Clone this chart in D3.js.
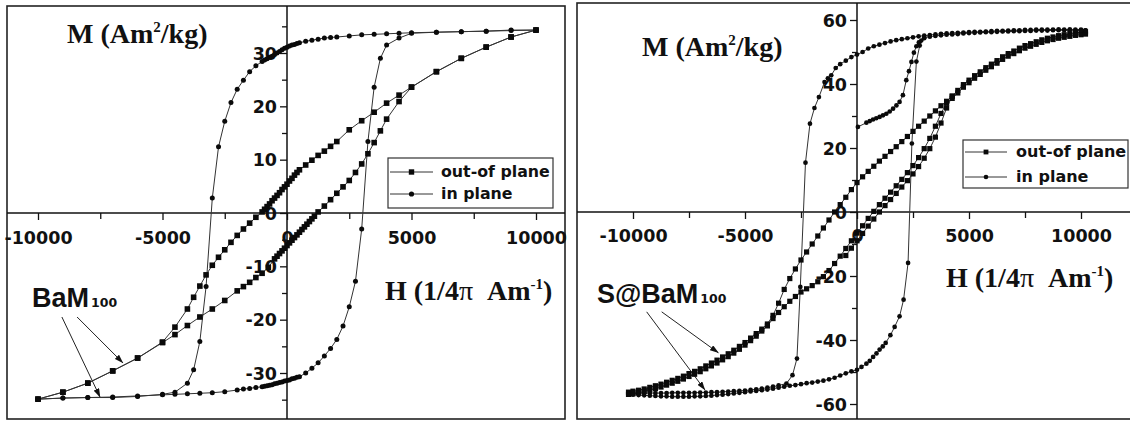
<!DOCTYPE html>
<html>
<head>
<meta charset="utf-8">
<script src="https://cdn.jsdelivr.net/npm/d3@7"></script>
<style>
  html, body { margin: 0; padding: 0; background: #fff; }
  svg { display: block; }
</style>
</head>
<body>
<svg id="chart" width="1130" height="421"></svg>
<script>
// ---------- Hysteresis loops, [H (1/4π A/m), M (Am²/kg)] ----------

// BaM100, out-of-plane: descending field branch
const bamOutDown = [[10000,34.3],[9000,33.0],[8000,31.1],[7000,29.0],[6000,26.5],[5000,23.6],[4500,22.1],[4000,20.6],[3500,18.9],[3000,17.3],[2500,15.6],[2000,13.4],[1750,12.5],[1500,11.6],[1250,10.8],[1000,9.9],[750,9.0],[500,8.1],[400,7.6],[300,7.1],[200,6.5],[100,6.0],[0,5.4],[-100,4.9],[-200,4.4],[-300,3.8],[-400,3.3],[-500,2.8],[-600,2.3],[-700,1.7],[-800,1.2],[-900,0.7],[-1000,0.2],[-1250,-0.8],[-1500,-1.9],[-1750,-3.0],[-2000,-4.2],[-2250,-5.5],[-2500,-6.9],[-2750,-8.3],[-3000,-9.8],[-3250,-11.6],[-3500,-13.7],[-3750,-15.8],[-4000,-18.0],[-4500,-21.4],[-5000,-24.2],[-6000,-27.2],[-7000,-29.6],[-8000,-31.9],[-9000,-33.6],[-10000,-34.9]];
// BaM100, out-of-plane: ascending field branch
const bamOutUp = [[-10000,-34.9],[-9000,-33.6],[-8000,-31.9],[-7000,-29.6],[-6000,-27.2],[-5000,-24.3],[-4500,-22.8],[-4000,-21.1],[-3500,-19.5],[-3000,-18.0],[-2500,-16.4],[-2000,-14.6],[-1750,-13.8],[-1500,-13.0],[-1250,-12.1],[-1000,-11.3],[-750,-10.2],[-500,-8.6],[-400,-8.1],[-300,-7.6],[-200,-7.1],[-100,-6.6],[0,-6.1],[100,-5.6],[200,-5.1],[300,-4.6],[400,-4.1],[500,-3.6],[600,-3.1],[700,-2.6],[800,-2.1],[900,-1.6],[1000,-1.1],[1100,-0.6],[1250,0.2],[1500,1.3],[1750,2.5],[2000,3.7],[2250,4.9],[2500,6.1],[2750,7.6],[3000,9.2],[3250,11.1],[3500,13.2],[3750,15.4],[4000,17.6],[4500,20.9],[5000,23.6],[6000,26.5],[7000,29.0],[8000,31.1],[9000,33.0],[10000,34.3]];
// BaM100, in-plane: descending field branch
const bamInDown = [[10000,34.3],[9000,34.3],[8000,34.1],[7000,34.0],[6000,33.9],[5000,33.8],[4500,33.7],[4000,33.6],[3500,33.5],[3000,33.4],[2500,33.2],[2000,33.0],[1750,32.9],[1500,32.8],[1250,32.6],[1000,32.4],[750,32.2],[500,31.9],[400,31.8],[300,31.6],[200,31.5],[100,31.3],[0,31.1],[-100,30.9],[-200,30.6],[-300,30.3],[-400,30.0],[-500,29.7],[-600,29.4],[-700,29.2],[-800,28.9],[-900,28.7],[-1000,28.4],[-1250,27.6],[-1500,26.5],[-1750,24.9],[-2000,23.2],[-2250,20.7],[-2500,17.2],[-2750,12.4],[-3000,2.8],[-3250,-13.8],[-3500,-24.1],[-3750,-29.4],[-4000,-31.9],[-4500,-33.6],[-5000,-34.0],[-6000,-34.4],[-7000,-34.6],[-8000,-34.6],[-9000,-34.7],[-10000,-34.9]];
// BaM100, in-plane: ascending field branch
const bamInUp = [[-10000,-34.9],[-9000,-34.7],[-8000,-34.6],[-7000,-34.5],[-6000,-34.3],[-5000,-34.1],[-4500,-34.0],[-4000,-33.9],[-3500,-33.8],[-3000,-33.7],[-2500,-33.5],[-2000,-33.2],[-1750,-33.0],[-1500,-32.9],[-1250,-32.7],[-1000,-32.6],[-900,-32.5],[-800,-32.4],[-700,-32.3],[-600,-32.2],[-500,-32.0],[-400,-31.9],[-300,-31.8],[-200,-31.7],[-100,-31.5],[0,-31.4],[100,-31.3],[200,-31.1],[300,-31.0],[400,-30.8],[500,-30.7],[750,-30.0],[1000,-29.1],[1250,-28.1],[1500,-26.8],[1750,-25.4],[2000,-23.7],[2250,-21.2],[2500,-17.6],[2750,-12.8],[3000,-3.0],[3250,13.4],[3500,23.6],[3750,29.0],[4000,31.5],[4500,32.8],[5000,33.7],[6000,33.9],[7000,34.0],[8000,34.1],[9000,34.2],[10000,34.3]];

// S@BaM100, out-of-plane: descending field branch
const sbamOutDown = [[10200,56.3],[10000,56.2],[9750,56.0],[9500,55.7],[9250,55.4],[9000,55.1],[8750,54.7],[8500,54.3],[8250,53.8],[8000,53.2],[7750,52.6],[7500,52.0],[7250,51.2],[7000,50.3],[6750,49.5],[6500,48.5],[6250,47.3],[6000,46.2],[5750,45.1],[5500,43.8],[5250,42.6],[5000,41.2],[4750,39.8],[4500,38.0],[4250,36.2],[4000,34.6],[3750,33.2],[3500,31.6],[3250,30.0],[3000,28.4],[2750,26.8],[2500,25.2],[2250,23.6],[2000,22.0],[1750,20.4],[1500,18.9],[1250,17.4],[1000,15.9],[750,14.3],[500,12.7],[250,11.0],[0,9.2],[-250,7.0],[-500,4.6],[-750,2.3],[-1000,0.0],[-1250,-2.5],[-1500,-5.0],[-1750,-7.5],[-2000,-10.0],[-2250,-12.5],[-2500,-15.0],[-2750,-17.8],[-3000,-20.8],[-3250,-24.2],[-3500,-28.5],[-3750,-32.3],[-4000,-35.0],[-4250,-36.6],[-4500,-38.0],[-4750,-39.4],[-5000,-40.8],[-5250,-42.0],[-5500,-43.2],[-5750,-44.3],[-6000,-45.3],[-6250,-46.3],[-6500,-47.2],[-6750,-48.1],[-7000,-49.0],[-7250,-49.8],[-7500,-50.5],[-7750,-51.3],[-8000,-52.0],[-8250,-52.6],[-8500,-53.2],[-8750,-53.8],[-9000,-54.3],[-9250,-54.8],[-9500,-55.3],[-9750,-55.7],[-10000,-56.0],[-10200,-56.3]];
// S@BaM100, out-of-plane: ascending field branch
const sbamOutUp = [[-10200,-57.0],[-10000,-56.8],[-9750,-56.5],[-9500,-56.1],[-9250,-55.6],[-9000,-55.2],[-8750,-54.7],[-8500,-54.1],[-8250,-53.5],[-8000,-52.9],[-7750,-52.2],[-7500,-51.4],[-7250,-50.7],[-7000,-49.9],[-6750,-49.0],[-6500,-48.1],[-6250,-47.2],[-6000,-46.2],[-5750,-45.2],[-5500,-44.1],[-5250,-42.9],[-5000,-41.6],[-4750,-40.2],[-4500,-38.8],[-4250,-37.2],[-4000,-35.6],[-3750,-33.3],[-3500,-31.4],[-3250,-29.6],[-3000,-27.9],[-2750,-26.4],[-2500,-25.0],[-2250,-24.0],[-2000,-23.0],[-1750,-21.8],[-1500,-20.2],[-1250,-18.3],[-1000,-16.1],[-750,-13.8],[-500,-11.4],[-250,-9.0],[0,-6.6],[250,-4.3],[500,-2.0],[750,0.2],[1000,2.3],[1250,4.3],[1500,6.2],[1750,8.2],[2000,10.2],[2250,12.3],[2500,14.5],[2750,17.0],[3000,19.8],[3250,23.0],[3500,26.8],[3750,30.8],[4000,34.0],[4250,35.5],[4500,37.2],[4750,39.0],[5000,40.4],[5250,41.8],[5500,43.0],[5750,44.3],[6000,45.4],[6250,46.5],[6500,47.7],[6750,48.7],[7000,49.5],[7250,50.4],[7500,51.2],[7750,51.8],[8000,52.4],[8250,53.0],[8500,53.5],[8750,53.9],[9000,54.3],[9250,54.6],[9500,54.9],[9750,55.2],[10000,55.4],[10200,55.6]];
// S@BaM100, out-of-plane: second ascending trace
const sbamOutUp2 = [[-500,-13.6],[-250,-11.3],[0,-9.0],[250,-6.7],[500,-4.4],[750,-2.2],[1000,0.0],[1250,2.0],[1500,3.9],[1750,5.8],[2000,7.8],[2250,9.8],[2500,11.9],[2750,14.2],[3000,16.8],[3250,19.8],[3500,23.4],[3750,27.8],[4000,32.5],[4250,36.2]];
// S@BaM100, in-plane: descending field branch
const sbamInDown = [[10200,56.8],[10000,57.0],[9750,57.0],[9500,57.1],[9250,57.0],[9000,57.1],[8750,57.0],[8500,57.0],[8250,57.0],[8000,57.0],[7750,56.9],[7500,56.9],[7250,56.8],[7000,56.8],[6750,56.7],[6500,56.6],[6250,56.6],[6000,56.5],[5750,56.4],[5500,56.3],[5250,56.3],[5000,56.2],[4750,56.1],[4500,56.0],[4250,55.9],[4000,55.8],[3750,55.7],[3500,55.5],[3250,55.3],[3000,55.1],[2750,54.9],[2500,54.6],[2250,54.3],[2000,54.0],[1750,53.7],[1500,53.3],[1250,52.8],[1000,52.3],[750,51.8],[500,51.1],[250,50.0],[0,49.2],[-250,48.4],[-500,47.3],[-750,46.2],[-950,45.0],[-1150,42.7],[-1300,41.8],[-1450,40.6],[-1700,35.9],[-1900,32.5],[-2100,27.6],[-2300,15.4],[-2530,-23.4],[-2680,-45.8],[-2880,-51.0],[-3150,-53.6],[-3500,-54.2],[-3750,-54.6],[-4000,-54.9],[-4250,-55.2],[-4500,-55.4],[-4750,-55.6],[-5000,-55.8],[-5250,-55.9],[-5500,-56.0],[-5750,-56.1],[-6000,-56.2],[-6250,-56.3],[-6500,-56.3],[-6750,-56.4],[-7000,-56.4],[-7250,-56.5],[-7500,-56.5],[-7750,-56.5],[-8000,-56.5],[-8250,-56.5],[-8500,-56.6],[-8750,-56.6],[-9000,-56.6],[-9250,-56.6],[-9500,-56.6],[-9750,-56.6],[-10000,-56.6],[-10200,-56.6]];
// S@BaM100, in-plane: ascending field branch
const sbamInUp = [[-10200,-56.9],[-10000,-57.1],[-9750,-57.2],[-9500,-57.3],[-9250,-57.4],[-9000,-57.5],[-8750,-57.6],[-8500,-57.6],[-8250,-57.7],[-8000,-57.7],[-7750,-57.7],[-7500,-57.7],[-7250,-57.6],[-7000,-57.6],[-6750,-57.5],[-6500,-57.4],[-6250,-57.2],[-6000,-57.1],[-5750,-56.9],[-5500,-56.7],[-5250,-56.5],[-5000,-56.3],[-4750,-56.1],[-4500,-55.9],[-4250,-55.7],[-4000,-55.5],[-3750,-55.2],[-3500,-54.9],[-3250,-54.6],[-3000,-54.3],[-2750,-54.1],[-2500,-53.8],[-2250,-53.5],[-2000,-53.3],[-1750,-53.0],[-1500,-52.7],[-1250,-52.3],[-1000,-51.8],[-750,-51.1],[-500,-50.4],[-250,-49.8],[0,-49.3],[200,-48.4],[420,-47.4],[570,-46.5],[720,-45.3],[870,-44.2],[1010,-43.0],[1150,-42.0],[1280,-40.9],[1490,-38.5],[1680,-35.9],[1900,-32.6],[2080,-27.4],[2280,-15.9],[2450,21.4],[2650,47.0],[2800,52.0],[3000,54.5],[3250,54.8],[3500,55.0],[3750,55.2],[4000,55.4],[4250,55.5],[4500,55.6],[4750,55.8],[5000,55.9],[5250,56.0],[5500,56.1],[5750,56.2],[6000,56.2],[6250,56.3],[6500,56.4],[6750,56.4],[7000,56.5],[7250,56.5],[7500,56.6],[7750,56.6],[8000,56.7],[8250,56.7],[8500,56.7],[8750,56.8],[9000,56.8],[9250,56.8],[9500,56.8],[9750,56.8],[10000,56.8],[10200,56.8]];
// S@BaM100, in-plane: first magnetisation from remanence
const sbamInInitial = [[40,26.6],[420,27.9],[570,28.4],[715,28.9],[860,29.3],[1010,29.7],[1160,30.2],[1310,30.7],[1460,31.4],[1610,32.3],[1760,33.3],[1900,34.4],[2050,36.5],[2200,41.2],[2320,44.0],[2430,46.9],[2540,49.8],[2650,51.8],[2760,53.0],[2870,53.6],[3000,54.3]];

// Tick values
const hMajorTicks = [-10000, -5000, 0, 5000, 10000];
const hMinorTicks = [-7500, -2500, 2500, 7500];
const mMajorTicksBaM = [-30, -20, -10, 0, 10, 20, 30];
const mMinorTicksBaM = [-35, -25, -15, -5, 5, 15, 25, 35];
const mMajorTicksSBaM = [-60, -40, -20, 0, 20, 40, 60];
const mMinorTicksSBaM = [-50, -30, -10, 10, 30, 50];

// Legend entries
const legendLabels = ["out-of plane", "in plane"];
const sampleNames = ["BaM", "S@BaM"];

// ---------- layout ----------
const svg = d3.select("#chart");
svg.append("rect").attr("width", 1130).attr("height", 421).attr("fill", "#fff");

const defs = svg.append("defs");
defs.append("marker")
  .attr("id", "arrowhead")
  .attr("viewBox", "0 0 9 6")
  .attr("refX", 8.5).attr("refY", 3)
  .attr("markerWidth", 9).attr("markerHeight", 6)
  .attr("markerUnits", "userSpaceOnUse")
  .attr("orient", "auto")
  .append("path").attr("d", "M0,0 L9,3 L0,6 Z").attr("fill", "#111");

const tickFont = "'DejaVu Sans', Verdana, sans-serif";
const serifFont = "'Liberation Serif', 'Times New Roman', serif";
const labelFont = "'Liberation Sans', Arial, sans-serif";

const panels = [
  {
    frame: [7, 6, 565, 419],
    xRange: [38, 536], yDomain: [-30, 30], yRange: [373, 53],
    yMajor: mMajorTicksBaM, yMinor: mMinorTicksBaM,
    xLabelOffset: 25, sq: 5.6, r: 2.5,
    series: [
      { data: bamOutDown, shape: "square" },
      { data: bamOutUp, shape: "square" },
      { data: bamInDown, shape: "circle" },
      { data: bamInUp, shape: "circle" }
    ],
    mTitle: [67, 43], hTitle: [385, 300],
    legend: { box: [388, 158, 553, 208], rows: [172, 194], line: [390, 433], text: 441, size: 15.8, sq: 5.4, r: 2.6 },
    sample: { name: sampleNames[0], at: [32, 307],
      arrows: [[[-8430, -19.5], [-6590, -28.1]], [[-9040, -19.5], [-7510, -34.5]]] }
  },
  {
    frame: [577, 3, 1140, 419],
    xRange: [633, 1081], yDomain: [-60, 60], yRange: [404, 20],
    yMajor: mMajorTicksSBaM, yMinor: mMinorTicksSBaM,
    xLabelOffset: 24, sq: 5.2, r: 2.35,
    series: [
      { data: sbamOutDown, shape: "square" },
      { data: sbamOutUp, shape: "square" },
      { data: sbamOutUp2, shape: "square" },
      { data: sbamInDown, shape: "circle" },
      { data: sbamInUp, shape: "circle" },
      { data: sbamInInitial, shape: "circle" }
    ],
    mTitle: [642, 56], hTitle: [946, 287],
    legend: { box: [963, 140, 1128, 188], rows: [152, 177], line: [965, 1007], text: 1016, size: 16, sq: 4.8, r: 2.3 },
    sample: { name: sampleNames[1], at: [597, 303],
      arrows: [[[-8720, -31.2], [-6190, -44.0]], [[-9390, -31.2], [-6790, -55.6]]] }
  }
];

function drawMarkers(g, pts, shape, sq, r) {
  if (shape === "square") {
    g.selectAll(null).data(pts).join("rect")
      .attr("x", d => d[0] - sq / 2).attr("y", d => d[1] - sq / 2)
      .attr("width", sq).attr("height", sq).attr("fill", "#0a0a0a");
  } else {
    g.selectAll(null).data(pts).join("circle")
      .attr("cx", d => d[0]).attr("cy", d => d[1]).attr("r", r).attr("fill", "#0a0a0a");
  }
}

panels.forEach(p => {
  const g = svg.append("g");
  const x = d3.scaleLinear().domain([-10000, 10000]).range(p.xRange);
  const y = d3.scaleLinear().domain(p.yDomain).range(p.yRange);
  const [fx0, fy0, fx1, fy1] = p.frame;
  const x0 = x(0), y0 = y(0);

  // plot frame
  g.append("rect").attr("x", fx0).attr("y", fy0)
    .attr("width", fx1 - fx0).attr("height", fy1 - fy0)
    .attr("fill", "none").attr("stroke", "#222").attr("stroke-width", 1.6);

  // x axis through M = 0
  const xAxisG = g.append("g").attr("transform", `translate(0,${y0})`);
  xAxisG.append("g").call(d3.axisBottom(x).tickValues(hMinorTicks).tickSize(6).tickFormat(""));
  const xMaj = xAxisG.append("g").call(d3.axisBottom(x).tickValues(hMajorTicks).tickSize(7).tickFormat(d => String(d)));
  xMaj.selectAll("text").attr("y", p.xLabelOffset).attr("dy", "0.35em");

  // y axis through H = 0
  const yAxisG = g.append("g").attr("transform", `translate(${x0},0)`);
  yAxisG.append("g").call(d3.axisLeft(y).tickValues(p.yMinor).tickSize(5).tickFormat(""));
  const yMaj = yAxisG.append("g").call(d3.axisLeft(y).tickValues(p.yMajor).tickSize(7).tickPadding(3).tickFormat(d => String(d)));
  yMaj.selectAll("text").attr("dy", "0.36em");

  g.selectAll(".domain").remove();
  g.selectAll(".tick line").attr("stroke", "#111").attr("stroke-width", 1.3);
  g.selectAll(".tick text")
    .attr("fill", "#111")
    .style("font-family", tickFont).style("font-weight", "bold").style("font-size", "17.5px");

  g.append("line").attr("x1", fx0).attr("x2", fx1).attr("y1", y0).attr("y2", y0)
    .attr("stroke", "#111").attr("stroke-width", 1.5);
  g.append("line").attr("x1", x0).attr("x2", x0).attr("y1", fy0).attr("y2", fy1)
    .attr("stroke", "#111").attr("stroke-width", 1.5);

  // axis titles
  const mt = g.append("text").attr("x", p.mTitle[0]).attr("y", p.mTitle[1])
    .style("font-family", serifFont).style("font-weight", "bold").style("font-size", "28px").attr("fill", "#111");
  mt.append("tspan").text("M (Am");
  mt.append("tspan").attr("dy", -11).style("font-size", "15px").text("2");
  mt.append("tspan").attr("dy", 11).text("/kg)");

  const ht = g.append("text").attr("x", p.hTitle[0]).attr("y", p.hTitle[1])
    .style("font-family", serifFont).style("font-weight", "bold").style("font-size", "28px").attr("fill", "#111");
  ht.append("tspan").text("H (1/4");
  ht.append("tspan").style("font-weight", "normal").text("\u03c0");
  ht.append("tspan").text("\u00a0\u00a0Am");
  ht.append("tspan").attr("dy", -11).style("font-size", "15px").text("-1");
  ht.append("tspan").attr("dy", 11).text(")");

  // sample label with arrows
  const st = g.append("text").attr("x", p.sample.at[0]).attr("y", p.sample.at[1])
    .style("font-family", labelFont).style("font-weight", "bold").style("font-size", "27px").attr("fill", "#111");
  st.append("tspan").text(p.sample.name);
  st.append("tspan").attr("dx", 2).style("font-family", tickFont).style("font-size", "12.5px").text("100");

  p.sample.arrows.forEach(a => {
    g.append("line")
      .attr("x1", x(a[0][0])).attr("y1", y(a[0][1]))
      .attr("x2", x(a[1][0])).attr("y2", y(a[1][1]))
      .attr("stroke", "#222").attr("stroke-width", 1)
      .attr("marker-end", "url(#arrowhead)");
  });

  // data: connecting line then markers
  const line = d3.line().x(d => x(d[0])).y(d => y(d[1]));
  p.series.forEach(s => {
    g.append("path").attr("d", line(s.data))
      .attr("fill", "none").attr("stroke", "#333").attr("stroke-width", 1);
  });
  p.series.forEach(s => {
    const pts = s.data.map(d => [x(d[0]), y(d[1])]);
    drawMarkers(g.append("g"), pts, s.shape, p.sq, p.r);
  });

  // legend
  const L = p.legend;
  const lg = g.append("g");
  lg.append("rect").attr("x", L.box[0]).attr("y", L.box[1])
    .attr("width", L.box[2] - L.box[0]).attr("height", L.box[3] - L.box[1])
    .attr("fill", "#fff").attr("stroke", "#333").attr("stroke-width", 1.2);
  legendLabels.forEach((lab, i) => {
    const ry = L.rows[i];
    lg.append("line").attr("x1", L.line[0]).attr("x2", L.line[1]).attr("y1", ry).attr("y2", ry)
      .attr("stroke", "#333").attr("stroke-width", 1);
    const mx = (L.line[0] + L.line[1]) / 2;
    drawMarkers(lg.append("g"), [[mx, ry]], i === 0 ? "square" : "circle", L.sq, L.r);
    lg.append("text").attr("x", L.text).attr("y", ry).attr("dy", "0.33em")
      .style("font-family", tickFont).style("font-weight", "bold").style("font-size", L.size + "px")
      .attr("fill", "#111").text(lab);
  });
});
</script>
</body>
</html>
